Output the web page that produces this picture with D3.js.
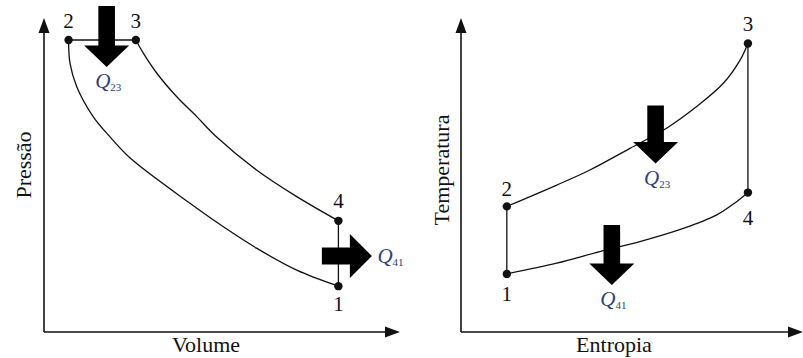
<!DOCTYPE html>
<html><head><meta charset="utf-8">
<script src="https://cdn.jsdelivr.net/npm/d3@7"></script>
<style>
html,body{margin:0;padding:0;background:#fff;}
svg{display:block;}
text{font-family:"Liberation Serif","Times New Roman",serif;fill:#111;}
</style></head>
<body>
<svg id="chart" width="803" height="358"></svg>
<script>
// ---------- DATA ----------
// Left panel: Pressão (P) vs Volume (V), arbitrary units 0-100
const pvStateNames = ["1", "2", "3", "4"];
const pvVolume   = [82.7, 6.9, 25.8, 82.7];
const pvPressure = [14.6, 93.0, 93.0, 35.4];
// compression 1-2 (listed from 2 to 1)
const pvCompV = [6.9, 7.3, 9.2, 13.8, 18.5, 24.2, 41.0, 50.4, 59.7, 71.0, 82.7];
const pvCompP = [93.0, 85.6, 78.1, 68.6, 62.2, 55.4, 41.0, 33.5, 26.7, 19.7, 14.6];
// expansion 3-4
const pvExpV = [25.8, 27.9, 31.7, 37.3, 42.9, 48.5, 59.7, 71.0, 82.7];
const pvExpP = [93.0, 88.8, 82.4, 74.9, 68.6, 62.1, 51.6, 43.1, 35.4];

// Right panel: Temperatura (T) vs Entropia (s), arbitrary units 0-100
const tsStateNames = ["1", "2", "3", "4"];
const tsEntropy = [13.4, 13.4, 83.9, 83.9];
const tsTemp    = [18.5, 40.0, 91.9, 44.4];
// heat addition 2-3
const tsAddS = [13.4, 28.0, 37.7, 49.4, 60.1, 68.9, 76.7, 81.6, 83.9];
const tsAddT = [40.0, 46.8, 51.6, 58.5, 64.9, 71.8, 79.2, 86.6, 91.9];
// heat rejection 1-4
const tsRejS = [13.4, 28.0, 40.6, 52.3, 65.0, 74.8, 80.6, 83.9];
const tsRejT = [18.5, 21.9, 25.6, 28.8, 33.0, 37.3, 41.5, 44.4];

// heat-flow arrows: tip position in data units
const heatLabels = ["23", "41", "23", "41"];
const heatPanel  = ["pv", "pv", "ts", "ts"];
const heatTipX   = [17.6, 92.1, 56.9, 44.1];
const heatTipY   = [84.4, 24.2, 53.7, 15.0];
const heatDir    = ["down", "right", "down", "down"];

const axisTitles = { pv: ["Volume", "Pressão"], ts: ["Entropia", "Temperatura"] };

// ---------- LAYOUT ----------
const svg = d3.select("#chart");
const ink = "#111";
const qColor = "#2c4274";

const panels = {
  pv: {
    x: d3.scaleLinear().domain([0, 100]).range([44, 400]),
    y: d3.scaleLinear().domain([0, 100]).range([332, 18])
  },
  ts: {
    x: d3.scaleLinear().domain([0, 100]).range([461, 803]),
    y: d3.scaleLinear().domain([0, 100]).range([332, 18])
  }
};

const zip = (a, b) => a.map((v, i) => [v, b[i]]);

function drawAxes(p, key) {
  const g = svg.append("g");
  const x0 = p.x(0), y0 = p.y(0), x1 = p.x(100), y1 = p.y(100);
  g.append("line").attr("x1", x0).attr("y1", y0).attr("x2", x1 - 12).attr("y2", y0)
    .attr("stroke", ink).attr("stroke-width", 1.6);
  g.append("line").attr("x1", x0).attr("y1", y0).attr("x2", x0).attr("y2", y1 + 12)
    .attr("stroke", ink).attr("stroke-width", 1.6);
  // arrow heads
  g.append("path").attr("d", `M${x1},${y0} L${x1 - 15},${y0 - 5.5} L${x1 - 15},${y0 + 5.5} Z`).attr("fill", ink);
  g.append("path").attr("d", `M${x0},${y1} L${x0 - 5.5},${y1 + 15} L${x0 + 5.5},${y1 + 15} Z`).attr("fill", ink);
  // titles
  const [xt, yt] = axisTitles[key];
  g.append("text").attr("x", (x0 + x1) / 2 + (key === "pv" ? -16 : -18)).attr("y", 352)
    .attr("text-anchor", "middle").attr("font-size", 22).text(xt);
  const yc = key === "pv" ? 165 : 170;
  const xc = key === "pv" ? 31 : 449;
  g.append("text").attr("transform", `translate(${xc},${yc}) rotate(-90)`)
    .attr("text-anchor", "middle").attr("font-size", 22).text(yt);
}

const line = (p) => d3.line().x(d => p.x(d[0])).y(d => p.y(d[1])).curve(d3.curveCatmullRom.alpha(0.5));
const straight = (p) => d3.line().x(d => p.x(d[0])).y(d => p.y(d[1]));

function drawPath(p, pts, curved) {
  svg.append("path").attr("d", (curved ? line(p) : straight(p))(pts))
    .attr("fill", "none").attr("stroke", ink).attr("stroke-width", 1.3);
}

// ---- PV diagram ----
const pv = panels.pv;
drawAxes(pv, "pv");
drawPath(pv, zip(pvCompV, pvCompP), true);
drawPath(pv, zip(pvExpV, pvExpP), true);
drawPath(pv, [[pvVolume[1], pvPressure[1]], [pvVolume[2], pvPressure[2]]], false);
drawPath(pv, [[pvVolume[3], pvPressure[3]], [pvVolume[0], pvPressure[0]]], false);

// ---- TS diagram ----
const ts = panels.ts;
drawAxes(ts, "ts");
drawPath(ts, zip(tsAddS, tsAddT), true);
drawPath(ts, zip(tsRejS, tsRejT), true);
drawPath(ts, [[tsEntropy[0], tsTemp[0]], [tsEntropy[1], tsTemp[1]]], false);
drawPath(ts, [[tsEntropy[2], tsTemp[2]], [tsEntropy[3], tsTemp[3]]], false);

// ---- heat arrows ----
heatLabels.forEach((lab, i) => {
  const p = panels[heatPanel[i]];
  const tx = p.x(heatTipX[i]), ty = p.y(heatTipY[i]);
  const g = svg.append("g");
  let d, lx, ly;
  if (heatDir[i] === "down") {
    const shaftLen = heatPanel[i] === "pv" ? 61 : (lab === "23" ? 58 : 60);
    const sw = 8.3, hw = 22.5, hl = 21.5;
    d = `M${tx},${ty} L${tx - hw},${ty - hl} L${tx - sw},${ty - hl} L${tx - sw},${ty - shaftLen}
         L${tx + sw},${ty - shaftLen} L${tx + sw},${ty - hl} L${tx + hw},${ty - hl} Z`;
    lx = tx - 11.5; ly = ty + 21.5;
  } else {
    const shaftLen = 50, sw = 8.5, hw = 22, hl = 22;
    d = `M${tx},${ty} L${tx - hl},${ty - hw} L${tx - hl},${ty - sw} L${tx - shaftLen},${ty - sw}
         L${tx - shaftLen},${ty + sw} L${tx - hl},${ty + sw} L${tx - hl},${ty + hw} Z`;
    lx = tx + 5.5; ly = ty + 7;
  }
  g.append("path").attr("d", d).attr("fill", "#000");
  const t = g.append("text").attr("x", lx).attr("y", ly).attr("font-size", 21).style("fill", qColor);
  t.append("tspan").attr("font-style", "italic").text("Q");
  t.append("tspan").attr("font-size", 11).attr("dy", 3).style("fill", qColor).text(lab);
});

// ---- state points & labels ----
function drawStates(p, xs, ys, names, offsets) {
  names.forEach((n, i) => {
    const cx = p.x(xs[i]), cy = p.y(ys[i]);
    svg.append("circle").attr("cx", cx).attr("cy", cy).attr("r", 4.2).attr("fill", ink);
    svg.append("text").attr("x", cx).attr("y", cy + offsets[i]).attr("text-anchor", "middle")
      .attr("font-size", 21).text(n);
  });
}
drawStates(pv, pvVolume, pvPressure, pvStateNames, [25, -12, -12, -13]);
drawStates(ts, tsEntropy, tsTemp, tsStateNames, [27, -10, -12, 32]);
</script>
</body></html>
